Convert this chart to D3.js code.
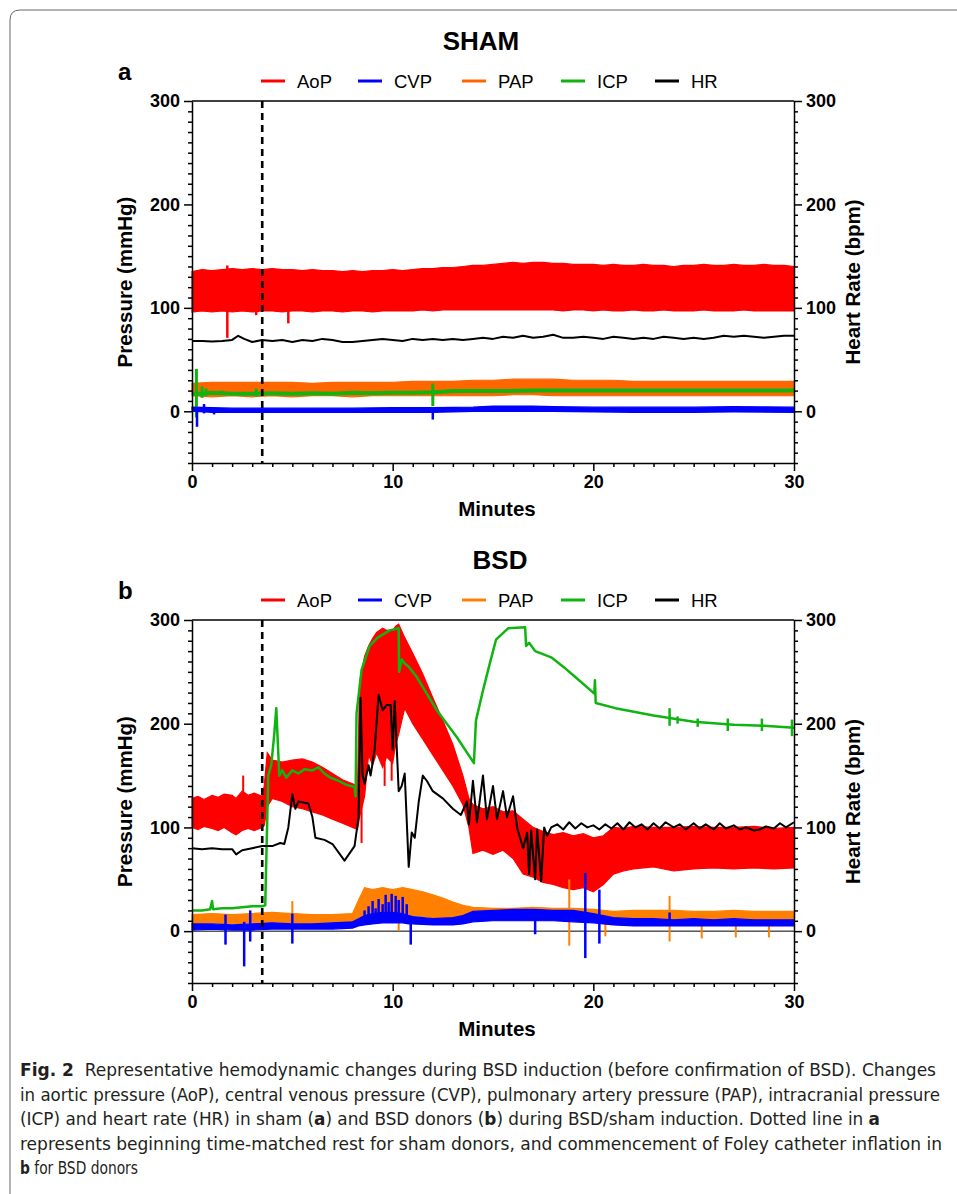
<!DOCTYPE html>
<html>

<head>
    <meta charset="utf-8">
    <style>
        body {
            margin: 0;
            background: #fff;
        }

        svg {
            display: block;
            font-family: "Liberation Sans", Arial, sans-serif;
        }

        .axis path,
        .axis line {
            stroke: #000;
            stroke-width: 1.5px;
        }

        .axis .tick text {
            font-size: 18px;
            font-weight: bold;
            fill: #000;
        }

        .axis-label {
            font-size: 20.5px;
            font-weight: bold;
        }

        .title {
            font-size: 26px;
            font-weight: bold;
        }

        .letter {
            font-size: 24px;
            font-weight: bold;
        }

        .legend text {
            font-size: 18.5px;
        }

        .caption {
            font-family: "Liberation Sans Narrow", "DejaVu Sans Condensed", "Open Sans", sans-serif;
            font-size: 17px;
            fill: #231f20;
        }
    </style>
</head>

<body>
    <svg width="957" height="1194"></svg>

    <script src="https://cdn.jsdelivr.net/npm/d3@7"></script>
    <script>
        // ---- tick labels / names ----
        let minutesMajor = [0, 10, 20, 30]
        let pressureMajor = [0, 100, 200, 300]
        let seriesNames = ["AoP", "CVP", "PAP", "ICP", "HR"]

        let shamColors = ["#ff0000", "#0000ff", "#ff6600", "#10b410", "#000000"]
        let bsdColors = ["#ff0000", "#0000ff", "#ff8000", "#10b410", "#000000"]

        // ---- SHAM (a) ----  bands are [minute, low, high], lines are [minute, value]
        let shamAoP = [
            [0, 96, 135], [0.5, 97, 137], [1, 96, 136], [1.5, 97, 137], [2, 96, 138], [2.5, 97, 137], [3, 96, 138],
            [3.5, 97, 137], [4, 97, 138], [4.5, 96, 137], [5, 97, 137], [5.5, 97, 136], [6, 96, 137], [6.5, 97, 136],
            [7, 97, 136], [7.5, 96, 135], [8, 97, 136], [8.5, 97, 135], [9, 96, 136], [9.5, 97, 136], [10, 97, 137],
            [10.5, 97, 136], [11, 97, 137], [11.5, 98, 138], [12, 97, 138], [12.5, 98, 139], [13, 98, 139],
            [13.5, 98, 140], [14, 98, 141], [14.5, 98, 141], [15, 98, 142], [15.5, 98, 143], [16, 98, 144],
            [16.5, 98, 143], [17, 98, 144], [17.5, 98, 144], [18, 98, 143], [18.5, 97, 143], [19, 98, 142],
            [19.5, 98, 142], [20, 97, 142], [20.5, 98, 141], [21, 97, 142], [21.5, 97, 141], [22, 98, 141],
            [22.5, 97, 142], [23, 97, 141], [23.5, 98, 141], [24, 97, 140], [24.5, 97, 141], [25, 97, 141],
            [25.5, 98, 142], [26, 97, 141], [26.5, 97, 141], [27, 97, 142], [27.5, 98, 141], [28, 97, 141],
            [28.5, 97, 142], [29, 97, 141], [29.5, 97, 141], [30, 97, 140]
        ]
        let shamAoPSpikes = [[1.76, 71, 141], [3.2, 93, 136], [4.8, 85, 137]]

        let shamHR = [
            [0, 68], [0.5, 68], [1, 67.5], [1.5, 68], [2, 69], [2.3, 73], [2.6, 70], [3, 67], [3.5, 69], [4, 68],
            [4.5, 69], [5, 67], [5.5, 69], [6, 68], [6.5, 70], [7, 69], [7.5, 67], [8, 67], [8.5, 68], [9, 69],
            [9.5, 70], [10, 69], [10.5, 68], [11, 70], [11.5, 69], [12, 70], [12.5, 69], [13, 70], [13.5, 69],
            [14, 70], [14.5, 71], [15, 70], [15.5, 72], [16, 71], [16.5, 73], [17, 71], [17.5, 72], [18, 74],
            [18.5, 71], [19, 71], [19.5, 72], [20, 71], [20.5, 70], [21, 72], [21.5, 71], [22, 70], [22.5, 71],
            [23, 70], [23.5, 72], [24, 71], [24.5, 70], [25, 71], [25.5, 70], [26, 71], [26.5, 73], [27, 72],
            [27.5, 73], [28, 72], [28.5, 71], [29, 72], [29.5, 73], [30, 73]
        ]

        let shamPAP = [
            [0, 15, 27], [1, 14, 28], [2, 15, 28], [3, 14, 28], [4, 15, 28], [5, 14, 28], [6, 15, 27], [7, 15, 28],
            [8, 14, 28], [9, 15, 28], [10, 15, 28], [11, 15, 29], [12, 15, 29], [13, 15, 29], [14, 15, 30],
            [15, 15, 30], [16, 16, 31], [17, 16, 31], [18, 15, 31], [19, 15, 30], [20, 15, 30], [21, 15, 30],
            [22, 15, 29], [23, 15, 29], [24, 15, 29], [25, 15, 29], [26, 15, 29], [27, 15, 29], [28, 15, 29],
            [29, 15, 29], [30, 15, 29]
        ]

        let shamICP = [
            [0, 17], [0.5, 17], [1, 18], [2, 17], [3, 17], [4, 17.5], [5, 17], [6, 17.5], [7, 17], [8, 18],
            [9, 17.5], [10, 18], [11, 18], [12, 18.5], [12.5, 19], [13, 19.5], [15, 19.5], [17, 20], [20, 20],
            [23, 20], [26, 20], [30, 20]
        ]
        let shamICPSpikes = [[0.22, -6, 41], [0.5, 13, 24], [0.7, 15, 22], [1.5, 16, 20], [3.2, 14, 22], [12, 5, 27]]

        let shamCVP = [
            [0, 0, 4], [1, -1, 3.5], [2, -1, 3], [3, -1, 3], [5, -1, 3], [8, -1, 3], [10, -1, 3.5], [12, -1, 3.5],
            [14, 0, 4], [15, 0, 5], [16, 0, 5], [17, 0, 5], [18, 0, 4.5], [20, -0.5, 4], [22, -1, 4], [25, -1, 4],
            [27, -0.5, 4.5], [30, -1, 4]
        ]
        let shamCVPSpikes = [[0.25, -15, 4], [0.6, -2, 7], [1.1, -3, 3], [12, -8, 4]]

        // ---- BSD (b) ----
        let bsdAoP = [
            [0, 100, 128], [0.3, 98, 130], [0.6, 101, 127], [1, 99, 131], [1.3, 97, 129], [1.6, 100, 132],
            [2, 95, 131], [2.2, 93, 128], [2.5, 97, 135], [2.8, 99, 131], [3.1, 97, 133], [3.5, 100, 130],
            [3.6, 102, 140], [3.75, 120, 172], [4, 128, 165], [4.5, 125, 163], [5, 120, 165], [5.5, 118, 166],
            [6, 115, 163], [6.5, 112, 158], [7, 108, 152], [7.5, 104, 146], [8, 100, 142], [8.25, 98, 140],
            [8.35, 110, 240], [8.6, 130, 265], [8.8, 170, 275], [9, 160, 282], [9.2, 172, 288], [9.5, 158, 292],
            [9.7, 168, 290], [10, 162, 290], [10.15, 180, 294], [10.3, 190, 296], [10.6, 215, 283], [11, 200, 268],
            [11.5, 185, 248], [12, 170, 225], [12.5, 155, 203], [13, 140, 180],
            [13.5, 122, 150], [13.8, 100, 128], [14, 75, 122], [14.5, 78, 118], [15, 74, 120], [15.5, 78, 115],
            [16, 70, 116], [16.5, 55, 108], [17, 52, 100], [17.5, 47, 96], [18, 45, 93], [18.5, 42, 95],
            [19, 40, 92], [19.5, 42, 94], [20, 38, 90], [20.5, 45, 92], [21, 55, 100], [21.5, 58, 99],
            [22, 60, 101], [23, 62, 100], [24, 58, 100], [25, 60, 101], [26, 61, 100], [27, 60, 100],
            [28, 61, 101], [29, 60, 99], [30, 61, 100]
        ]
        let bsdAoPSpikes = [[2.55, 110, 150], [8.45, 85, 200], [9.6, 140, 200], [9.95, 145, 200]]

        let bsdHR = [
            [0, 80], [0.5, 79], [1, 80], [1.5, 79], [2, 79], [2.2, 74], [2.5, 78], [3, 80], [3.5, 82], [4, 82],
            [4.4, 85], [4.6, 84], [4.8, 100], [5.0, 132], [5.15, 118], [5.3, 125], [5.8, 123], [6.0, 110],
            [6.15, 90], [6.6, 88], [7, 84], [7.6, 68], [8.1, 82], [8.3, 110], [8.4, 225], [8.5, 150], [8.6, 142],
            [8.8, 160], [8.9, 150], [9.1, 175], [9.3, 228], [9.5, 213], [9.7, 218], [9.9, 218], [10.0, 175],
            [10.1, 222], [10.3, 135], [10.45, 140], [10.6, 152], [10.8, 62], [10.95, 95], [11.1, 90], [11.3, 125],
            [11.5, 150], [11.7, 145], [12, 135], [12.5, 128], [13, 118], [13.4, 112], [13.7, 125], [13.8, 103],
            [14.0, 145], [14.2, 105], [14.5, 150], [14.7, 108], [15.0, 140], [15.2, 108], [15.5, 135], [15.7, 110],
            [16, 130], [16.2, 100], [16.5, 80], [16.7, 95], [16.8, 55], [16.9, 97], [17.1, 50], [17.2, 98],
            [17.4, 48], [17.55, 100], [17.7, 92], [17.9, 100], [18.2, 103], [18.5, 98], [18.8, 105], [19.1, 99],
            [19.4, 104], [19.7, 100], [20, 102], [20.3, 98], [20.6, 103], [20.9, 99], [21.2, 104], [21.5, 98],
            [21.8, 105], [22.1, 100], [22.4, 103], [22.7, 98], [23, 104], [23.3, 99], [23.6, 105], [24, 100],
            [24.3, 103], [24.6, 98], [25, 104], [25.3, 99], [25.6, 103], [26, 98], [26.3, 104], [26.6, 99],
            [27, 102], [27.3, 98], [27.6, 100], [28, 97], [28.3, 98], [28.6, 101], [29, 99], [29.3, 104],
            [29.6, 100], [30, 105]
        ]

        let bsdICP = [
            [0, 20], [0.5, 20], [0.9, 21], [1.0, 29], [1.05, 21], [1.5, 22], [2, 22], [2.5, 23], [3, 24],
            [3.5, 24], [3.65, 25], [3.8, 150], [3.95, 160], [4.1, 190], [4.2, 215], [4.35, 150], [4.5, 155],
            [4.7, 148], [5, 155], [5.3, 152], [5.6, 156], [6, 155], [6.3, 158], [6.6, 152], [6.9, 148],
            [7.3, 145], [7.7, 141], [8.1, 139], [8.15, 130], [8.2, 210], [8.45, 252], [8.85, 275], [9.25, 283],
            [9.85, 290], [10.3, 292], [10.32, 250], [10.45, 262], [10.6, 258], [10.8, 255], [11.2, 245],
            [12.2, 213], [13.2, 187], [14.05, 162], [14.15, 203], [14.5, 232], [14.8, 255], [15.15, 281],
            [15.75, 292], [16.6, 293], [16.65, 275], [16.8, 278], [17.1, 270], [17.9, 264], [18.5, 255],
            [19.1, 245], [20.05, 229], [20.08, 242], [20.12, 220], [21.1, 215], [23, 208], [25, 202], [27, 199],
            [28.5, 198], [30, 196]
        ]
        let bsdICPSpikes = [[23.8, 198, 215], [24.2, 200, 207], [25.2, 197, 205], [26.7, 193, 205], [28.4, 193, 205], [29.9, 188, 204]]

        let bsdPAP = [
            [0, 7, 16], [1, 8, 17], [2, 7, 16], [3, 8, 17], [4, 8, 18], [5, 7, 17], [6, 7, 16], [7, 8, 16],
            [8, 8, 17], [8.3, 10, 30], [8.6, 15, 42], [9, 15, 40], [9.5, 17, 42], [10, 16, 40], [10.5, 15, 42],
            [11, 15, 40], [11.5, 14, 38], [12, 13, 35], [12.5, 12, 32], [13, 12, 28], [13.5, 12, 25], [14, 11, 23],
            [15, 11, 22], [16, 11, 22], [17, 11, 23], [18, 11, 22], [19, 11, 22], [20, 10, 21], [21, 10, 19],
            [22, 10, 20], [23, 10, 20], [24, 10, 20], [25, 10, 19], [26, 10, 19], [27, 10, 20], [28, 10, 19],
            [29, 10, 19], [30, 10, 19]
        ]
        let bsdPAPSpikes = [[5.0, 8, 29], [10.3, 0, 20], [18.8, -14, 50], [20.6, -5, 20], [23.8, -10, 34], [25.4, -7, 18], [27.1, -6, 18], [28.75, -6, 18]]

        let bsdCVP = [
            [0, 1, 7], [1, 2, 7], [2, 1, 6], [3, 1, 7], [4, 2, 8], [5, 2, 7], [6, 2, 7], [7, 2, 8], [8, 3, 9],
            [8.3, 5, 12], [8.6, 6, 15], [9, 7, 17], [9.5, 8, 18], [10, 8, 18], [10.5, 8, 17], [10.8, 7, 15],
            [11, 7, 14], [12, 6, 12], [13, 6, 13], [13.5, 7, 15], [14, 9, 19], [15, 10, 20], [16, 10, 21],
            [17, 10, 21], [18, 10, 20], [19, 9, 20], [20, 8, 17], [21, 6, 13], [22, 5, 12], [23, 5, 12],
            [24, 5, 11], [25, 5, 12], [26, 5, 11], [27, 5, 12], [28, 5, 11], [29, 5, 11], [30, 5, 11]
        ]
        let bsdCVPSpikes = [
            [1.67, -13, 16], [2.6, -34, 9], [2.9, -10, 20], [5.0, -12, 17], [8.6, 6, 20], [8.8, 7, 24],
            [9.0, 7, 29], [9.15, 8, 22], [9.3, 8, 31], [9.5, 8, 26], [9.65, 8, 35], [9.8, 8, 28], [9.95, 8, 36],
            [10.15, 8, 34], [10.3, 8, 30], [10.5, 8, 33], [10.7, 8, 26], [10.9, -13, 14], [17.1, -3, 20],
            [19.6, -26, 56], [20.3, -12, 40], [23.8, 5, 18]
        ]

        let markerMinute = 3.5

        // ---- caption text ----
        let captionLines = [
            [["Fig. 2", true], ["  Representative hemodynamic changes during BSD induction (before confirmation of BSD). Changes", false]],
            [["in aortic pressure (AoP), central venous pressure (CVP), pulmonary artery pressure (PAP), intracranial pressure", false]],
            [["(ICP) and heart rate (HR) in sham (", false], ["a", true], [") and BSD donors (", false], ["b", true], [") during BSD/sham induction. Dotted line in ", false], ["a", true]],
            [["represents beginning time-matched rest for sham donors, and commencement of Foley catheter inflation in", false]],
            [["b", true], [" for BSD donors", false]]
        ]
        let captionWidths = [916, 920, 860, 922, 118]

        let svg = d3.select("svg")

        // figure frame (rounded top-left corner)
        svg.append("path")
            .attr("d", "M10,1194 L10,20 Q10,10 20,10 L957,10")
            .attr("fill", "none")
            .attr("stroke", "#666")
            .attr("stroke-width", 1)

        function drawPanel(cfg) {
            let x = d3.scaleLinear().domain([0, 30]).range([192, 794])
            let y = d3.scaleLinear().domain([-50, 300]).range([cfg.bottom, cfg.top])
            let g = svg.append("g")
            let color = d3.scaleOrdinal().domain(seriesNames).range(cfg.colors)

            let area = d3.area()
                .x(d => x(d[0]))
                .y0(d => y(d[1]))
                .y1(d => y(d[2]))
            let line = d3.line()
                .x(d => x(d[0]))
                .y(d => y(d[1]))

            // zero line
            g.append("line")
                .attr("x1", x(0)).attr("x2", x(30))
                .attr("y1", y(0)).attr("y2", y(0))
                .attr("stroke", "#000").attr("stroke-width", 1)

            function band(data, key) {
                g.append("path")
                    .datum(data)
                    .attr("d", area)
                    .attr("fill", color(key))
                    .attr("stroke", color(key))
                    .attr("stroke-width", 1.2)
            }
            function trace(data, key, w) {
                g.append("path")
                    .datum(data)
                    .attr("d", line)
                    .attr("fill", "none")
                    .attr("stroke", color(key))
                    .attr("stroke-width", w)
                    .attr("stroke-linejoin", "round")
            }
            function spikes(data, key, w) {
                g.append("g")
                    .selectAll("line")
                    .data(data)
                    .join("line")
                    .attr("x1", d => x(d[0])).attr("x2", d => x(d[0]))
                    .attr("y1", d => y(d[1])).attr("y2", d => y(d[2]))
                    .attr("stroke", color(key))
                    .attr("stroke-width", w)
            }

            cfg.draw(band, trace, spikes)

            // dotted marker line
            g.append("line")
                .attr("x1", x(markerMinute)).attr("x2", x(markerMinute))
                .attr("y1", y(300)).attr("y2", y(-50))
                .attr("stroke", "#000")
                .attr("stroke-width", 2.6)
                .attr("stroke-dasharray", "7,5")

            // axes
            let yMinor = d3.range(-50, 301, 10)
            let xMinor = d3.range(0, 31, 1)
            let fmtY = d => pressureMajor.includes(d) ? d : ""
            let fmtX = d => minutesMajor.includes(d) ? d : ""

            g.append("g")
                .attr("class", "axis")
                .attr("transform", `translate(${x(0)},0)`)
                .call(d3.axisLeft(y).tickValues(yMinor).tickFormat(fmtY).tickSize(4).tickSizeOuter(0).tickPadding(8))
                .call(a => a.selectAll(".tick").filter(d => pressureMajor.includes(d)).select("line").attr("x2", -8))

            g.append("g")
                .attr("class", "axis")
                .attr("transform", `translate(${x(30)},0)`)
                .call(d3.axisRight(y).tickValues(yMinor).tickFormat(fmtY).tickSize(4).tickSizeOuter(0).tickPadding(8))
                .call(a => a.selectAll(".tick").filter(d => pressureMajor.includes(d)).select("line").attr("x2", 8))

            g.append("g")
                .attr("class", "axis")
                .attr("transform", `translate(0,${y(-50)})`)
                .call(d3.axisBottom(x).tickValues(xMinor).tickFormat(fmtX).tickSize(4).tickSizeOuter(0).tickPadding(8))
                .call(a => a.selectAll(".tick").filter(d => minutesMajor.includes(d)).select("line").attr("y2", 8))

            g.append("line")
                .attr("x1", x(0)).attr("x2", x(30))
                .attr("y1", y(300)).attr("y2", y(300))
                .attr("stroke", "#000").attr("stroke-width", 1.5)

            // labels
            let midY = (cfg.top + cfg.bottom) / 2
            g.append("text")
                .attr("class", "axis-label")
                .attr("transform", `translate(132,${midY}) rotate(-90)`)
                .attr("text-anchor", "middle")
                .text("Pressure (mmHg)")
            g.append("text")
                .attr("class", "axis-label")
                .attr("transform", `translate(860,${midY}) rotate(-90)`)
                .attr("text-anchor", "middle")
                .text("Heart Rate (bpm)")
            g.append("text")
                .attr("class", "axis-label")
                .attr("x", 497)
                .attr("y", cfg.bottom + 53)
                .attr("text-anchor", "middle")
                .text("Minutes")

            g.append("text")
                .attr("class", "title")
                .attr("x", cfg.titleX)
                .attr("y", cfg.top - 51)
                .attr("text-anchor", "middle")
                .text(cfg.title)
            g.append("text")
                .attr("class", "letter")
                .attr("x", 118)
                .attr("y", cfg.top - 21)
                .text(cfg.letter)

            // legend
            let legendX = [261, 358, 462, 561, 655]
            let lg = g.append("g").attr("class", "legend")
            seriesNames.forEach((name, i) => {
                lg.append("line")
                    .attr("x1", legendX[i]).attr("x2", legendX[i] + 24)
                    .attr("y1", cfg.top - 20).attr("y2", cfg.top - 20)
                    .attr("stroke", color(name))
                    .attr("stroke-width", 3)
                lg.append("text")
                    .attr("x", legendX[i] + 36)
                    .attr("y", cfg.top - 13.5)
                    .text(name)
            })
        }

        drawPanel({
            top: 101, bottom: 463, title: "SHAM", titleX: 481, letter: "a", colors: shamColors,
            draw: (band, trace, spikes) => {
                band(shamAoP, "AoP")
                spikes(shamAoPSpikes, "AoP", 2.5)
                trace(shamHR, "HR", 2)
                band(shamPAP, "PAP")
                trace(shamICP, "ICP", 4)
                spikes(shamICPSpikes, "ICP", 3)
                band(shamCVP, "CVP")
                spikes(shamCVPSpikes, "CVP", 2.5)
            }
        })

        drawPanel({
            top: 620, bottom: 983, title: "BSD", titleX: 500, letter: "b", colors: bsdColors,
            draw: (band, trace, spikes) => {
                band(bsdAoP, "AoP")
                spikes(bsdAoPSpikes, "AoP", 2)
                band(bsdPAP, "PAP")
                spikes(bsdPAPSpikes, "PAP", 2)
                band(bsdCVP, "CVP")
                spikes(bsdCVPSpikes, "CVP", 2.5)
                trace(bsdICP, "ICP", 2.5)
                spikes(bsdICPSpikes, "ICP", 2.5)
                trace(bsdHR, "HR", 2)
            }
        })

        // caption
        let cap = svg.append("g")
        captionLines.forEach((parts, i) => {
            let t = cap.append("text")
                .attr("class", "caption")
                .attr("x", 20)
                .attr("y", 1076 + i * 24.6)
                .style("white-space", "pre")
            parts.forEach(p => {
                t.append("tspan")
                    .attr("font-weight", p[1] ? "bold" : null)
                    .text(p[0])
            })
            t.attr("textLength", captionWidths[i]).attr("lengthAdjust", "spacingAndGlyphs")
        })
    </script>
</body>

</html>
